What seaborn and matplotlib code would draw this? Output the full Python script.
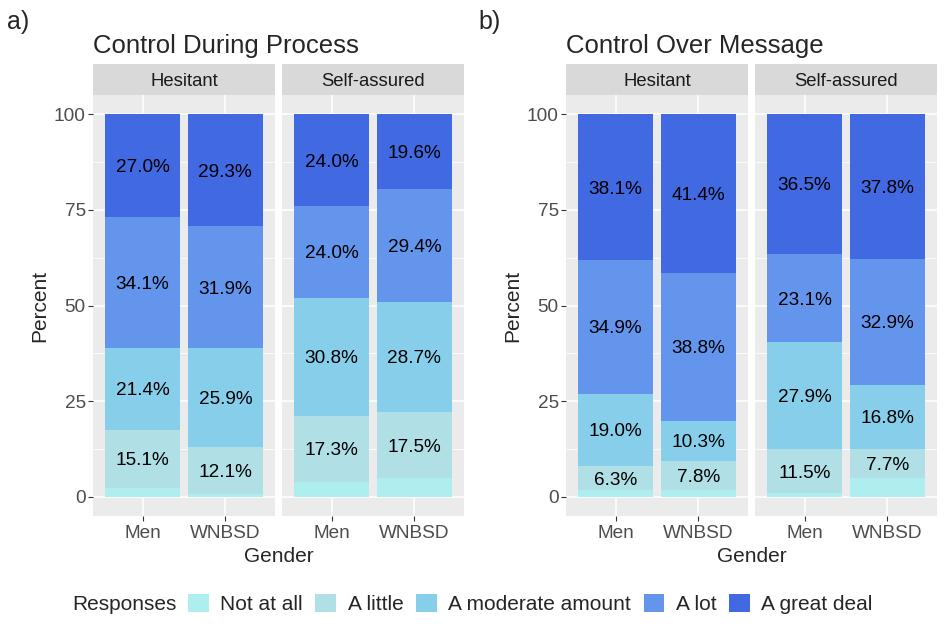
import numpy as np
import pandas as pd
import matplotlib
matplotlib.use("Agg")
import matplotlib.pyplot as plt
import matplotlib.patches as mpatches
from matplotlib.ticker import FixedLocator
import seaborn as sns

sns.set_theme(style="white")
plt.rcParams["font.family"] = ["Liberation Sans", "DejaVu Sans"]

# data
responses = ["Not at all", "A little", "A moderate amount", "A lot", "A great deal"]
colors = ["#AFEEEE", "#B0E0E6", "#87CEEB", "#6495ED", "#4169E1"]
genders = ["Men", "WNBSD"]
groups = ["Hesitant", "Self-assured"]
panel_titles = ["Control During Process", "Control Over Message"]
panel_tags = ["a)", "b)"]

# values per response (bottom -> top), for Men and WNBSD
process_hesitant = {"Men": [2.4, 15.1, 21.4, 34.1, 27.0], "WNBSD": [0.8, 12.1, 25.9, 31.9, 29.3]}
process_selfassured = {"Men": [3.9, 17.3, 30.8, 24.0, 24.0], "WNBSD": [4.8, 17.5, 28.7, 29.4, 19.6]}
message_hesitant = {"Men": [1.7, 6.3, 19.0, 34.9, 38.1], "WNBSD": [1.7, 7.8, 10.3, 38.8, 41.4]}
message_selfassured = {"Men": [1.0, 11.5, 27.9, 23.1, 36.5], "WNBSD": [4.8, 7.7, 16.8, 32.9, 37.8]}

panels = [[process_hesitant, process_selfassured], [message_hesitant, message_selfassured]]

W, H = 944, 630
fig = plt.figure(figsize=(W / 100, H / 100), dpi=100)


def px_rect(l, t, r, b):
    return [l / W, 1 - b / H, (r - l) / W, (b - t) / H]


facet_x = [[(93, 275), (282, 464)], [(566, 748), (755, 937)]]
strip_top, plot_top, plot_bot = 64, 95, 516
tag_x = [7, 478]

for p in range(2):
    for g in range(2):
        l, r = facet_x[p][g]
        ax = fig.add_axes(px_rect(l, plot_top, r, plot_bot))
        vals = panels[p][g]
        df = pd.DataFrame({
            "Gender": np.repeat(genders, len(responses)),
            "Response": responses * len(genders),
            "value": np.concatenate([vals[k] for k in genders]),
        })
        df["Response"] = pd.Categorical(df["Response"], responses, ordered=True)
        df = df.sort_values(["Gender", "Response"])
        df["cum"] = df.groupby("Gender")["value"].cumsum()
        df["mid"] = df["cum"] - df["value"] / 2

        # draw from top layer down so lower layers cover the upper cumulative bars
        for resp, col in reversed(list(zip(responses, colors))):
            sub = df[df["Response"] == resp]
            sns.barplot(data=sub, x="Gender", y="cum", order=genders, color=col,
                        saturation=1, width=0.9, errorbar=None, linewidth=0, ax=ax)

        for _, row in df.iterrows():
            if row["value"] >= 5:
                ax.text(genders.index(row["Gender"]), row["mid"], f"{row['value']:.1f}%",
                        ha="center", va="center_baseline", fontsize=13.7, color="black")

        ax.set_facecolor("#EBEBEB")
        for s in ax.spines.values():
            s.set_visible(False)
        ax.set_xlim(-0.6, 1.6)
        ax.set_ylim(-5, 105)
        ax.yaxis.set_major_locator(FixedLocator([0, 25, 50, 75, 100]))
        ax.yaxis.set_minor_locator(FixedLocator([12.5, 37.5, 62.5, 87.5]))
        ax.grid(which="major", color="white", linewidth=1.1)
        ax.grid(which="minor", axis="y", color="white", linewidth=0.55)
        ax.set_axisbelow(True)
        ax.set_xlabel("")
        ax.set_ylabel("")
        ax.tick_params(axis="x", which="major", length=3.3, width=0.8, color="#333333",
                       labelsize=13.7, labelcolor="#4D4D4D", pad=3, bottom=True)
        ax.tick_params(axis="y", which="minor", length=0, left=False)
        if g == 0:
            ax.tick_params(axis="y", which="major", length=3.3, width=0.8, color="#333333",
                           labelsize=13.7, labelcolor="#4D4D4D", pad=2, left=True)
        else:
            ax.tick_params(axis="y", which="major", length=0, left=False, labelleft=False)

        # facet strip
        sax = fig.add_axes(px_rect(l, strip_top, r, plot_top))
        sax.set_facecolor("#D9D9D9")
        sax.set_xticks([])
        sax.set_yticks([])
        for s in sax.spines.values():
            s.set_visible(False)
        sax.text(0.5, 0.5, groups[g], ha="center", va="center_baseline", fontsize=13.3,
                 color="#1A1A1A", transform=sax.transAxes)

    left = facet_x[p][0][0]
    right = facet_x[p][1][1]
    fig.text(left / W, 1 - 53 / H, panel_titles[p], fontsize=18.5, va="baseline", ha="left")
    fig.text(tag_x[p] / W, 1 - 29 / H, panel_tags[p], fontsize=18, va="baseline", ha="left")
    fig.text((left + right) / 2 / W, 1 - 556 / H, "Gender", fontsize=15, ha="center", va="center")
    fig.text((left - 53) / W, 1 - 306 / H, "Percent", fontsize=15, rotation=90,
             ha="center", va="center")

# legend
handles = [mpatches.Patch(facecolor=c, edgecolor="none", label=r) for r, c in zip(responses, colors)]
fig.text(72 / W, 1 - 604 / H, "Responses", fontsize=15, ha="left", va="center")
fig.legend(handles=handles, loc="center left", bbox_to_anchor=(188 / W, 1 - 604 / H),
           ncol=5, frameon=False, fontsize=15, handlelength=1.0, handleheight=1.0,
           handletextpad=0.55, columnspacing=0.6, borderpad=0, borderaxespad=0)

fig.savefig("out.png", dpi=100)
